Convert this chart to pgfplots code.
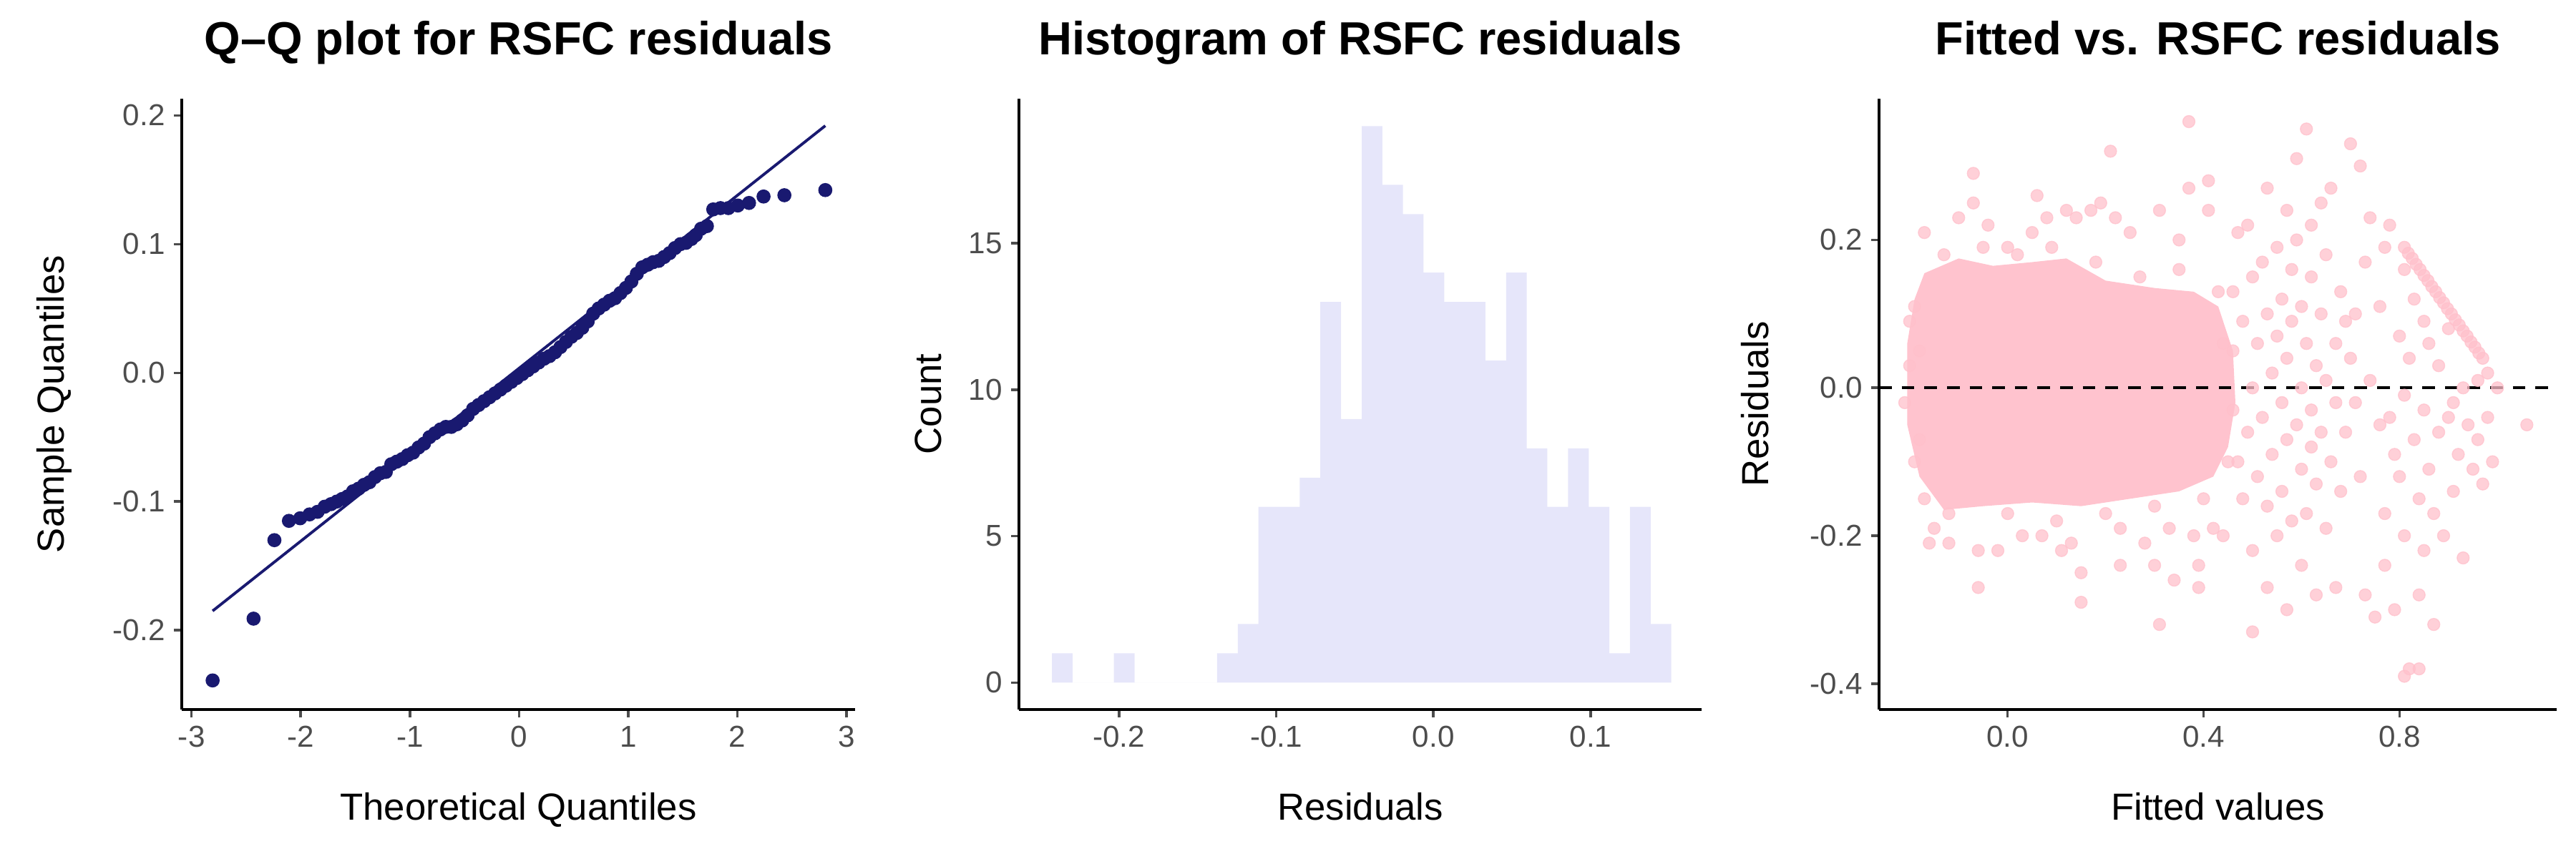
\documentclass[border=0pt]{standalone}
\usepackage{pgfplots}
\pgfplotsset{compat=1.18}
\usepackage{fontspec}
\setmainfont{Liberation Sans}
\definecolor{navyq}{HTML}{191970}
\definecolor{lav}{HTML}{E6E6FA}
\definecolor{pinkc}{HTML}{FFC0CB}
\definecolor{tickg}{HTML}{4D4D4D}
\pgfplotsset{
  gg/.style={
    scale only axis, width=94.1mm, height=85.4mm,
    axis lines*=left, axis line style={black, line width=1.1pt, -},
    tick align=outside, major tick length=1.1mm,
    tick style={tickg, line width=1pt},
    ticklabel style={font=\fontsize{12}{14}\selectfont, text=tickg},
    title style={font=\fontsize{18.5}{22}\selectfont\bfseries, at={(axis description cs:0.5,1)}, anchor=base, yshift=4mm},
    xlabel style={font=\fontsize{15}{18}\selectfont, at={(axis description cs:0.5,-0.181)}, anchor=base},
    ylabel style={font=\fontsize{15}{18}\selectfont, anchor=center},
    clip=true,
  }
}
\begin{document}
\begin{tikzpicture}
\useasboundingbox (0,0) rectangle (36,12);
% ---------------- Q-Q
\begin{axis}[gg, at={(2.54cm,2.08cm)},
  xmin=-3.09, xmax=3.08, ymin=-0.2616, ymax=0.213,
  xtick={-3,-2,-1,0,1,2,3}, xticklabels={-3,-2,-1,0,1,2,3},
  ytick={-0.2,-0.1,0,0.1,0.2}, yticklabels={-0.2,-0.1,0.0,0.1,0.2},
  title={Q–Q plot for RSFC residuals},
  xlabel={Theoretical Quantiles}, ylabel={Sample Quantiles},
  ylabel style={at={(axis description cs:-0.189,0.5)}}]
\addplot[navyq, line width=1.1pt] coordinates {(-2.807,-0.185) (2.807,0.192)};
\addplot[only marks, mark=*, mark size=2.6pt, mark options={navyq, draw=navyq, fill=navyq}] coordinates {
(-2.807,-0.239) (-2.432,-0.191) (-2.241,-0.130) (-2.108,-0.115) (-2.005,-0.113)
(-1.919,-0.110) (-1.846,-0.108) (-1.780,-0.104) (-1.722,-0.102) (-1.669,-0.100)
(-1.62,-0.098) (-1.57,-0.096) (-1.52,-0.092) (-1.47,-0.090) (-1.42,-0.087)
(-1.37,-0.085) (-1.32,-0.081) (-1.27,-0.078) (-1.22,-0.077) (-1.17,-0.071)
(-1.12,-0.069) (-1.07,-0.067) (-1.02,-0.064) (-0.97,-0.062) (-0.92,-0.058)
(-0.87,-0.055) (-0.82,-0.050) (-0.77,-0.047) (-0.72,-0.044) (-0.67,-0.042)
(-0.62,-0.042) (-0.57,-0.040) (-0.52,-0.037) (-0.47,-0.033) (-0.42,-0.028)
(-0.37,-0.025) (-0.32,-0.022) (-0.27,-0.019) (-0.22,-0.016) (-0.17,-0.013)
(-0.12,-0.010) (-0.07,-0.007) (-0.02,-0.004) (0.03,-0.001) (0.08,0.002)
(0.13,0.005) (0.18,0.008) (0.23,0.011) (0.28,0.013) (0.33,0.016)
(0.38,0.020) (0.43,0.024) (0.48,0.028) (0.53,0.031) (0.58,0.035)
(0.63,0.040) (0.68,0.046) (0.73,0.050) (0.78,0.053) (0.83,0.056)
(0.88,0.058) (0.93,0.062) (0.98,0.066) (1.03,0.071) (1.08,0.077)
(1.13,0.082) (1.18,0.084) (1.23,0.086) (1.28,0.087) (1.33,0.090)
(1.38,0.093) (1.43,0.097) (1.48,0.100) (1.53,0.101) (1.58,0.104)
(1.62,0.107) (1.669,0.112) (1.722,0.114) (1.780,0.127) (1.846,0.128)
(1.919,0.128) (2.005,0.130) (2.108,0.132) (2.241,0.137) (2.432,0.138) (2.807,0.142)};
\end{axis}
% ---------------- Histogram
\begin{axis}[gg, at={(14.24cm,2.08cm)}, width=95.4mm,
  xmin=-0.2636, xmax=0.1706, ymin=-0.92, ymax=19.94,
  xtick={-0.2,-0.1,0,0.1}, xticklabels={-0.2,-0.1,0.0,0.1},
  ytick={0,5,10,15}, yticklabels={0,5,10,15},
  title={Histogram of RSFC residuals},
  xlabel={Residuals}, ylabel={Count},
  ylabel style={at={(axis description cs:-0.133,0.5)}}]
\addplot[ybar interval, fill=lav, draw=none] coordinates {
(-0.2426,1) (-0.2295,0) (-0.2164,0) (-0.2032,1) (-0.1901,0) (-0.1770,0)
(-0.1638,0) (-0.1507,0) (-0.1376,1) (-0.1244,2) (-0.1113,6) (-0.0982,6)
(-0.0850,7) (-0.0719,13) (-0.0588,9) (-0.0456,19) (-0.0325,17) (-0.0194,16)
(-0.0063,14) (0.0069,13) (0.0200,13) (0.0331,11) (0.0463,14) (0.0594,8)
(0.0725,6) (0.0857,8) (0.0988,6) (0.1119,1) (0.1250,6) (0.1382,2) (0.1513,2)};
\end{axis}
% ---------------- Fitted vs residuals
\begin{axis}[gg, at={(26.26cm,2.08cm)}, width=94.7mm,
  xmin=-0.2625, xmax=1.121, ymin=-0.435, ymax=0.391,
  xtick={0,0.4,0.8}, xticklabels={0.0,0.4,0.8},
  ytick={-0.4,-0.2,0,0.2}, yticklabels={-0.4,-0.2,0.0,0.2},
  title={Fitted vs. RSFC residuals},
  xlabel={Fitted values}, ylabel={Residuals},
  ylabel style={at={(axis description cs:-0.183,0.5)}}]
\addplot[fill=pinkc, draw=none, fill opacity=0.95] coordinates {
(-0.205,0.06) (-0.19,0.12) (-0.17,0.155) (-0.1,0.175) (-0.03,0.165) (0.05,0.17)
(0.12,0.175) (0.2,0.145) (0.3,0.135) (0.38,0.13) (0.43,0.11) (0.46,0.05)
(0.465,-0.02) (0.45,-0.08) (0.42,-0.12) (0.35,-0.14) (0.25,-0.15) (0.15,-0.16)
(0.05,-0.155) (-0.05,-0.16) (-0.13,-0.165) (-0.18,-0.12) (-0.205,-0.05)} -- cycle;
\addplot[only marks, mark=*, mark size=2.4pt, mark options={draw=pinkc, fill=pinkc, opacity=0.75}] coordinates {
(-0.19,0.11) (-0.19,-0.1) (-0.18,0.05) (-0.2,0.03) (-0.18,-0.07) (-0.21,-0.02) (-0.2,0.09)
(-0.13,0.18) (-0.05,0.19) (0.02,0.18) (0.09,0.19) (0.18,0.17) (0.27,0.15) (0.35,0.16) (0.43,0.13)
(-0.12,-0.17) (0.0,-0.17) (0.1,-0.18) (0.2,-0.17) (0.3,-0.16) (0.4,-0.15) (0.45,-0.1) (0.44,0.06)
(-0.17,0.21) (-0.17,-0.15) (-0.15,-0.19) (-0.16,-0.21) (-0.12,-0.21) (-0.1,0.23) (-0.07,0.25)
(-0.07,0.29) (-0.06,-0.22) (-0.06,-0.27) (-0.04,0.22) (-0.02,-0.22) (0.0,0.19) (0.03,-0.2)
(0.05,0.21) (0.06,0.26) (0.07,-0.2) (0.08,0.23) (0.11,-0.22) (0.12,0.24) (0.13,-0.21)
(0.14,0.23) (0.15,-0.25) (0.15,-0.29) (0.17,0.24) (0.19,0.25) (0.21,0.32) (0.22,0.23)
(0.23,-0.19) (0.23,-0.24) (0.25,0.21) (0.28,-0.21) (0.31,0.24) (0.31,-0.32) (0.3,-0.24)
(0.33,-0.19) (0.34,-0.26) (0.35,0.2) (0.37,0.36) (0.37,0.27) (0.38,-0.2) (0.39,-0.24)
(0.39,-0.27) (0.41,0.28) (0.41,0.24) (0.42,-0.19) (0.44,-0.2)
(0.46,0.13) (0.46,0.05) (0.46,-0.03) (0.47,-0.1) (0.47,0.21) (0.48,-0.15) (0.48,0.09)
(0.49,0.22) (0.49,-0.06) (0.5,0.0) (0.5,0.15) (0.5,-0.22) (0.5,-0.33) (0.51,0.06)
(0.51,-0.12) (0.52,0.17) (0.52,-0.04) (0.53,0.1) (0.53,0.27) (0.53,-0.16) (0.53,-0.27)
(0.54,0.02) (0.54,-0.09) (0.55,0.19) (0.55,-0.2) (0.55,0.07) (0.56,0.12) (0.56,-0.02)
(0.56,-0.14) (0.57,0.24) (0.57,0.04) (0.57,-0.07) (0.57,-0.3) (0.58,0.16) (0.58,-0.18)
(0.58,0.09) (0.59,-0.05) (0.59,0.31) (0.59,0.2) (0.6,0.0) (0.6,0.11) (0.6,-0.11)
(0.6,-0.24) (0.61,0.06) (0.61,0.35) (0.61,-0.17) (0.62,0.15) (0.62,-0.03) (0.62,-0.08)
(0.62,0.22) (0.63,0.03) (0.63,-0.13) (0.63,-0.28) (0.64,0.1) (0.64,0.25) (0.64,-0.06)
(0.65,-0.19) (0.65,0.18) (0.65,0.01) (0.66,-0.1) (0.66,0.27) (0.67,0.06) (0.67,-0.02)
(0.67,-0.27) (0.68,0.13) (0.68,-0.14) (0.69,0.09) (0.69,-0.06) (0.7,0.33) (0.7,0.04)
(0.71,-0.02) (0.71,0.1) (0.72,0.3) (0.72,-0.12) (0.73,0.17) (0.73,-0.28) (0.74,0.23)
(0.75,-0.31) (0.74,0.01)
(0.76,0.11) (0.76,-0.05) (0.77,-0.17) (0.77,0.19) (0.77,-0.24) (0.78,-0.04) (0.78,0.22)
(0.79,-0.09) (0.79,-0.3) (0.8,0.07) (0.8,-0.12) (0.81,0.16) (0.81,-0.01) (0.81,-0.2)
(0.81,-0.39) (0.82,-0.38) (0.82,0.04) (0.83,-0.07) (0.83,0.12) (0.84,-0.15) (0.84,-0.28)
(0.84,-0.38) (0.85,0.09) (0.85,-0.03) (0.85,-0.22) (0.86,-0.11) (0.86,0.06) (0.87,-0.17)
(0.87,-0.32) (0.88,0.03) (0.88,-0.06) (0.89,-0.2) (0.9,-0.04) (0.9,0.08) (0.91,-0.14)
(0.91,-0.02) (0.92,-0.09) (0.93,0.0) (0.93,-0.23) (0.94,-0.05) (0.95,-0.11) (0.96,0.01)
(0.96,-0.07) (0.97,-0.13) (0.98,0.02) (0.98,-0.04) (0.99,-0.1) (1.0,0.0) (1.06,-0.05)
(0.81,0.190) (0.818,0.182) (0.826,0.175) (0.834,0.167) (0.842,0.160) (0.850,0.152)
(0.858,0.145) (0.866,0.137) (0.874,0.130) (0.882,0.122) (0.890,0.115) (0.898,0.107)
(0.906,0.100) (0.914,0.092) (0.922,0.085) (0.930,0.077) (0.938,0.070) (0.946,0.062)
(0.954,0.055) (0.962,0.047) (0.970,0.040)};
\addplot[black, dashed, line width=1.2pt, dash pattern=on 5pt off 4pt] coordinates {(-0.2625,0) (1.121,0)};
\end{axis}
\end{tikzpicture}
\end{document}
